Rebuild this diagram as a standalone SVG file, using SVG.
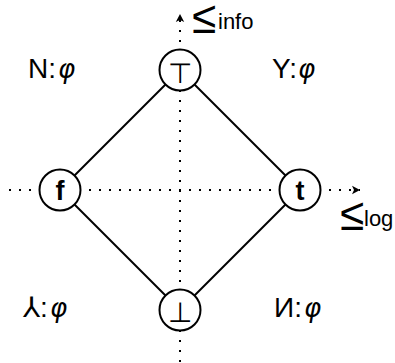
<svg xmlns="http://www.w3.org/2000/svg" width="395" height="363" viewBox="0 0 395 363">
<defs>
<marker id="ah" markerUnits="userSpaceOnUse" markerWidth="12" markerHeight="12" viewBox="-1 -6 12 12" refX="8" refY="0" orient="auto">
<path d="M8,0 L0,-4.2 L2,0 L0,4.2 Z" fill="#000"/>
</marker>
</defs>
<style>
.dot{stroke:#000;stroke-width:2;stroke-dasharray:2 8;fill:none}
.edge{stroke:#000;stroke-width:2}
.node circle{fill:#fff;stroke:#000;stroke-width:2}
.lbl{font-family:"Liberation Sans","DejaVu Sans",sans-serif;font-size:28px;fill:#000}
.phi{font-family:"DejaVu Sans",sans-serif;font-style:italic;font-weight:200;font-size:26px}
.nl{font-family:"Liberation Sans","DejaVu Sans",sans-serif;font-weight:bold;font-size:27px;text-anchor:middle}
.sym{font-family:"DejaVu Sans",sans-serif;font-weight:200;font-size:28px;text-anchor:middle}
.le{font-family:"DejaVu Sans",sans-serif;font-weight:200;font-size:40px}
.sub{font-family:"Liberation Sans","DejaVu Sans",sans-serif;font-size:22px}
</style>
<g id="axes">
<line class="dot" x1="180" y1="362" x2="180" y2="14" marker-end="url(#ah)"/>
<line class="dot" x1="9" y1="190" x2="360" y2="190" marker-end="url(#ah)"/>
<text class="le" transform="translate(192,33) scale(1.1,1.15)">≤</text>
<text class="sub" x="218" y="29">info</text>
<text class="le" transform="translate(340,230) scale(1.1,1.15)">≤</text>
<text class="sub" x="364" y="226">log</text>
</g>
<g id="connectors">
<line class="edge" x1="180" y1="70" x2="60" y2="190"/>
<line class="edge" x1="180" y1="70" x2="300" y2="190"/>
<line class="edge" x1="60" y1="190" x2="180" y2="310"/>
<line class="edge" x1="300" y1="190" x2="180" y2="310"/>
</g>
<g id="top" class="node"><circle cx="180" cy="70" r="20.5"/><text class="sym" x="180" y="83">⊤</text></g>
<g id="f" class="node"><circle cx="60" cy="190" r="20.5"/><text class="nl" x="60" y="200">f</text></g>
<g id="t" class="node"><circle cx="300" cy="190" r="20.5"/><text class="nl" x="300" y="200">t</text></g>
<g id="bottom" class="node"><circle cx="180" cy="310" r="20.5"/><text class="sym" x="180" y="322">⊥</text></g>
<g id="labels">
<text class="lbl" x="28" y="78">N:<tspan class="phi" dx="2">φ</tspan></text>
<text class="lbl" x="272" y="78">Y:<tspan class="phi" dx="1">φ</tspan></text>
<text class="lbl" x="23" y="317">⅄:<tspan class="phi" dx="2">φ</tspan></text>
<text class="lbl" x="274" y="317">И:<tspan class="phi" dx="2">φ</tspan></text>
</g>
</svg>
